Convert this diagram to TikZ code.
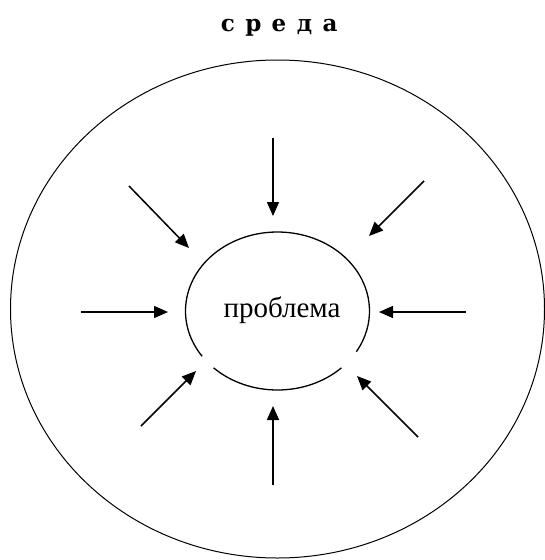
\documentclass[tikz,border=0pt]{standalone}
\usepackage{fontspec}
\setmainfont{Liberation Serif}
\newfontfamily\titlefont{DejaVu Serif}
\usetikzlibrary{arrows.meta}
\newcommand{\spc}[1]{\makebox[25.5pt]{#1}}
\begin{document}
\begin{tikzpicture}[x=1pt,y=-1pt,
  infl/.style={line width=1.5pt,-{Triangle[length=14pt,width=12pt]}},
  rim/.style={line width=1pt},
  core/.style={line width=1.3pt}]
\useasboundingbox (0,0) rectangle (545,560);
% environment
\coordinate (env) at (277.5,309);
\draw[rim] (env) ellipse [x radius=267, y radius=249];
\node[inner sep=0pt, anchor=base] (title) at (279,31) {\titlefont\bfseries\fontsize{23}{23}\selectfont\spc{с}\spc{р}\spc{е}\spc{д}\spc{а}};
% problem
\coordinate (pc) at (277.5,311);
\draw[core] ([shift={(46:92 and 79)}]pc) arc[start angle=46, end angle=134, x radius=92, y radius=79];
\draw[core] ([shift={(145:92 and 79)}]pc) arc[start angle=145, end angle=391, x radius=92, y radius=79];
\node[inner sep=0pt, anchor=base] (prob) at (282,317) {\fontsize{29}{29}\selectfont проблема};
% arrows
\coordinate (t1) at (273,138);   \coordinate (t2) at (273,216);
\coordinate (b1) at (273,485);   \coordinate (b2) at (273,406);
\coordinate (l1) at (81,312);    \coordinate (l2) at (168,312);
\coordinate (r1) at (466,312);   \coordinate (r2) at (379,312);
\coordinate (ul1) at (129,186);  \coordinate (ul2) at (189,248);
\coordinate (ur1) at (424,181);  \coordinate (ur2) at (369,236);
\coordinate (ll1) at (141,426);  \coordinate (ll2) at (196,371);
\coordinate (lr1) at (418,437);  \coordinate (lr2) at (357,376);
\foreach \a in {t,b,l,r,ul,ur,ll,lr}{
  \draw[infl] (\a1) -- (\a2);
}
\end{tikzpicture}
\end{document}
